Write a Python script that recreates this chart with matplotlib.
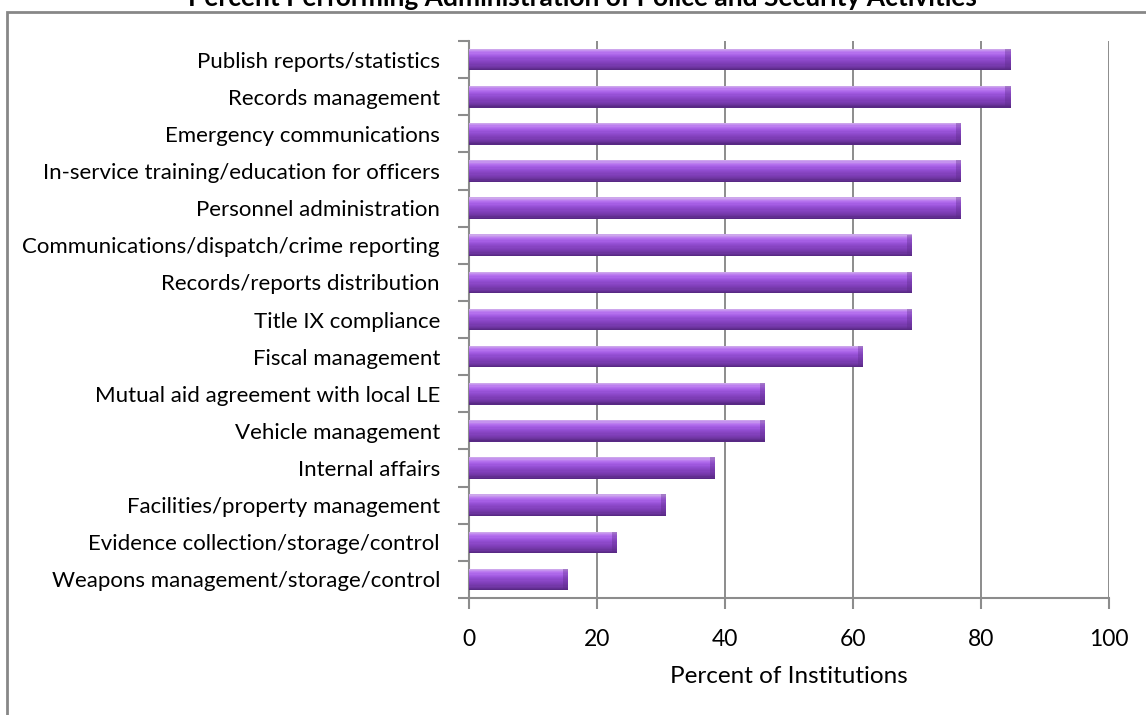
import numpy as np
import matplotlib
matplotlib.use("Agg")
import matplotlib.pyplot as plt
from matplotlib.colors import LinearSegmentedColormap
from matplotlib.patches import Rectangle

# Activities, listed top to bottom
activities = [
    "Publish reports/statistics",
    "Records management",
    "Emergency communications",
    "In-service training/education for officers",
    "Personnel administration",
    "Communications/dispatch/crime reporting",
    "Records/reports distribution",
    "Title IX compliance",
    "Fiscal management",
    "Mutual aid agreement with local LE",
    "Vehicle management",
    "Internal affairs",
    "Facilities/property management",
    "Evidence collection/storage/control",
    "Weapons management/storage/control",
]
percents = [84.6, 84.6, 76.9, 76.9, 76.9, 69.2, 69.2, 69.2, 61.5,
            46.2, 46.2, 38.5, 30.8, 23.1, 15.4]
x_ticks = [0, 20, 40, 60, 80, 100]

plt.rcParams["font.family"] = ["Lato", "DejaVu Sans"]
GRID = "#8c8c8c"

fig = plt.figure(figsize=(11.46, 7.15), dpi=100)
ax = fig.add_axes([0.4093, 0.1636, 0.5585, 0.7790])

y = np.arange(len(activities))[::-1]
vals = np.array(percents)

# cylinder-style shading: stack thin horizontal bands, light on top, dark below
shade = LinearSegmentedColormap.from_list(
    "bar", ["#cda6ec", "#b875f0", "#a65fe5", "#944fd3", "#8845c4",
            "#7d3db5", "#7036a3", "#582984"])
bar_h = 0.58
n_bands = 18
band = bar_h / n_bands
for i in range(n_bands):
    off = bar_h / 2 - band * (i + 0.5)
    ax.barh(y + off, vals, height=band * 1.02, color=shade(i / (n_bands - 1)),
            linewidth=0, zorder=3)
# darker cap at the right end of each bar
ax.barh(y, np.full_like(vals, 0.8), left=vals - 0.8, height=bar_h,
        color="#5a2a86", alpha=0.35, linewidth=0, zorder=4)

ax.set_xlim(0, 100)
ax.set_ylim(-0.5, len(activities) - 0.5)
ax.set_xticks(x_ticks)
ax.set_xticklabels([str(t) for t in x_ticks], fontsize=16.5)
ax.set_yticks(y)
ax.set_yticklabels(activities, fontsize=16)
ax.set_yticks(np.arange(-0.5, len(activities)), minor=True)

ax.tick_params(axis="y", which="major", length=0, pad=21)
ax.tick_params(axis="y", which="minor", length=8, width=1.5, color=GRID)
ax.tick_params(axis="x", length=8, width=1.5, color=GRID, pad=14)

ax.grid(axis="x", color=GRID, linewidth=1.4, zorder=0)
ax.set_axisbelow(True)
for side in ("top", "right"):
    ax.spines[side].set_visible(False)
for side in ("left", "bottom"):
    ax.spines[side].set_color(GRID)
    ax.spines[side].set_linewidth(1.5)

ax.set_xlabel("Percent of Institutions", fontsize=17.5, labelpad=12)

# chart border, running off the right and bottom of the image
fig.patches.append(Rectangle((7 / 1146, -0.1), 1.2, 1 - 12 / 715 + 0.1,
                             transform=fig.transFigure, fill=False,
                             edgecolor="#878787", linewidth=2))

fig.text(0.508, 1 - 6 / 715, "Percent Performing Administration of Police and Security Activities",
         ha="center", va="baseline", fontsize=19, fontweight="bold")

fig.savefig("out.png", dpi=100)
